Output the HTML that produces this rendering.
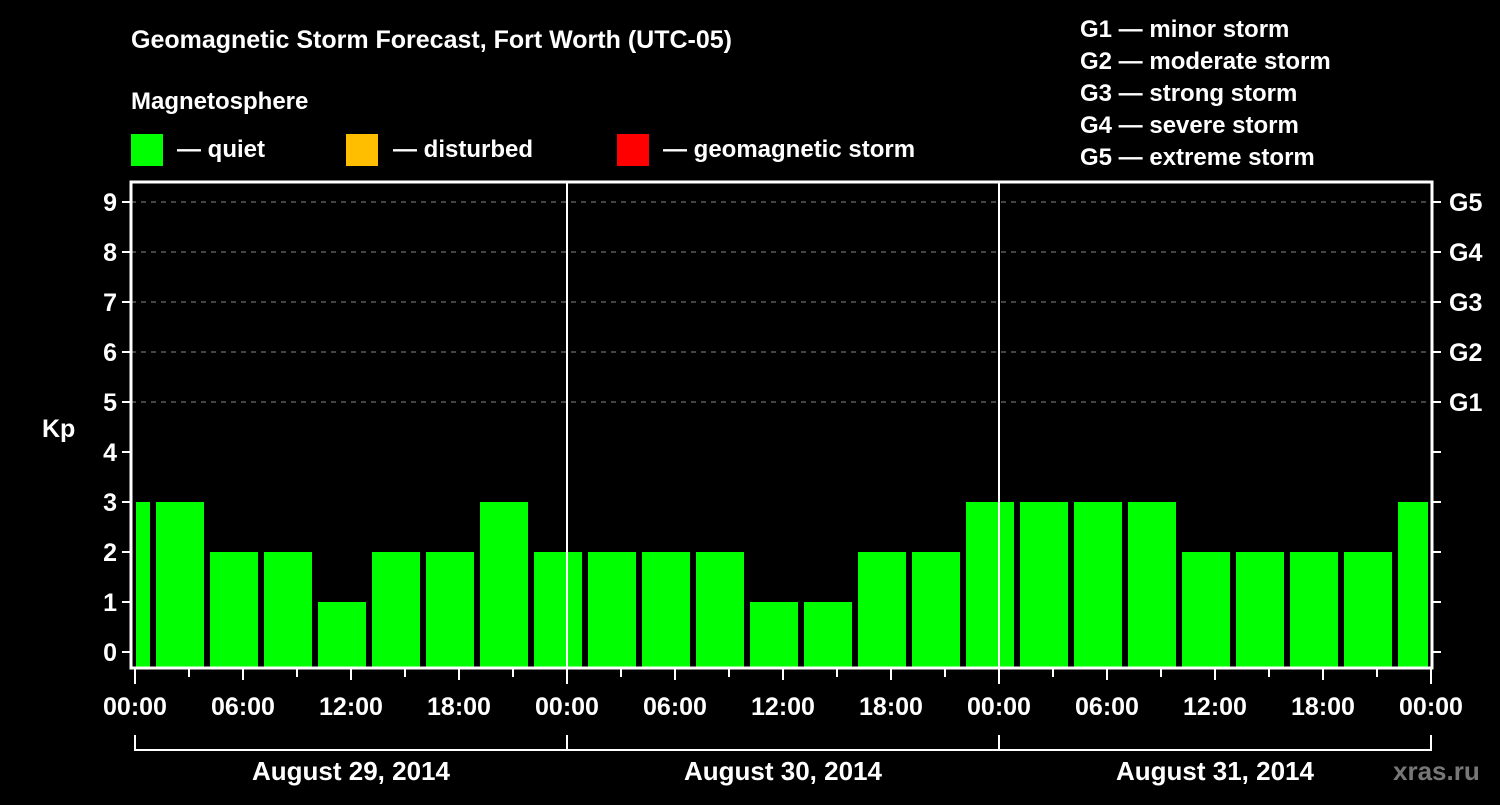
<!DOCTYPE html>
<html><head><meta charset="utf-8"><style>
body{margin:0;background:#000;width:1500px;height:800px;overflow:hidden}
svg text{font-family:"Liberation Sans",sans-serif;font-weight:bold;fill:#fff}
</style></head><body>
<svg id="c" width="1500" height="800">
<text x="131" y="48" font-size="25">Geomagnetic Storm Forecast, Fort Worth (UTC-05)</text>
<text x="131" y="109" font-size="24">Magnetosphere</text>
<rect x="131" y="134" width="32" height="32" fill="#00ff00"/>
<text x="177" y="157" font-size="24">— quiet</text>
<rect x="346" y="134" width="32" height="32" fill="#ffbf00"/>
<text x="393" y="157" font-size="24">— disturbed</text>
<rect x="617" y="134" width="32" height="32" fill="#ff0000"/>
<text x="663" y="157" font-size="24">— geomagnetic storm</text>
<g font-size="24">
<text x="1080" y="37">G1 — minor storm</text>
<text x="1080" y="69">G2 — moderate storm</text>
<text x="1080" y="101">G3 — strong storm</text>
<text x="1080" y="133">G4 — severe storm</text>
<text x="1080" y="165">G5 — extreme storm</text>
</g>
<text x="42" y="437" font-size="25">Kp</text>
<g id="grid"></g><g id="bars"></g><g id="axes"></g>
<text x="1393" y="780" font-size="26" fill="#777" style="fill:#777">xras.ru</text>
</svg>
<script>
const kpValues=[3,3,2,2,1,2,2,3,2,2,2,2,1,1,2,2,3,3,3,3,2,2,2,2,3];
const dayLabels=["August 29, 2014","August 30, 2014","August 31, 2014"];
const hourLabels=["00:00","06:00","12:00","18:00"];
const gLabels=["G1","G2","G3","G4","G5"];
const NS="http://www.w3.org/2000/svg";
const L=131,R=1432,T=182,B=668,X0=135,PXH=18;
const x=h=>X0+h*PXH, y=v=>652-v*50;
function mk(tag,at,parent){const e=document.createElementNS(NS,tag);for(const k in at)e.setAttribute(k,at[k]);parent.appendChild(e);return e;}
const grid=document.getElementById('grid'),bars=document.getElementById('bars'),axes=document.getElementById('axes');
for(let v=5;v<=9;v++){const l=mk('line',{x1:L,x2:R,y1:y(v),y2:y(v),stroke:'#888','stroke-dasharray':'5,5'},grid);

}
kpValues.forEach((v,i)=>{const c=-0.5+3*i;let x1=x(c)-24,x2=x(c)+24;x1=Math.max(x1,L+5);x2=Math.min(x2,R-4);
const col=v>=5?'#ff0000':(v>=4?'#ffbf00':'#00ff00');
const r=mk('rect',{x:x1,y:y(v),width:x2-x1,height:B-y(v),fill:col},bars);

});
for(let d=1;d<3;d++){const l=mk('line',{x1:x(24*d),x2:x(24*d),y1:T,y2:B,stroke:'#fff','stroke-width':2},axes);

}
const box=mk('rect',{x:L,y:T,width:R-L,height:B-T,fill:'none',stroke:'#fff','stroke-width':3},axes);


for(let v=0;v<=9;v++){mk('line',{x1:L-9,x2:L,y1:y(v),y2:y(v),stroke:'#fff','stroke-width':2},axes);
mk('line',{x1:R,x2:R+9,y1:y(v),y2:y(v),stroke:'#fff','stroke-width':2},axes);
const t=mk('text',{x:L-14,y:y(v)+9,'font-size':25,'text-anchor':'end'},axes);t.textContent=v;

}
gLabels.forEach((g,i)=>{const t=mk('text',{x:R+17,y:y(5+i)+9,'font-size':25},axes);t.textContent=g;

});
for(let h=0;h<=72;h+=3){const maj=h%6==0;mk('line',{x1:x(h),x2:x(h),y1:B,y2:B+(maj?(h%24==0?16:12):9),stroke:'#fff','stroke-width':2},axes);
if(maj&&h%6==0&&(h%6==0)){if(h%6==0&&(h/6)%1==0){const lbl=hourLabels[(h%24)/6];
const t=mk('text',{x:x(h),y:715,'font-size':25,'text-anchor':'middle'},axes);t.textContent=lbl;

}}}
mk('polyline',{points:`${x(0)},735 ${x(0)},750 ${x(72)},750 ${x(72)},735`,fill:'none',stroke:'#fff','stroke-width':2},axes);
for(let d=1;d<3;d++)mk('line',{x1:x(24*d),x2:x(24*d),y1:735,y2:750,stroke:'#fff','stroke-width':2},axes);
dayLabels.forEach((s,d)=>{const t=mk('text',{x:x(24*d+12),y:780,'font-size':26,'text-anchor':'middle'},axes);t.textContent=s;

});
</script>
</body></html>
